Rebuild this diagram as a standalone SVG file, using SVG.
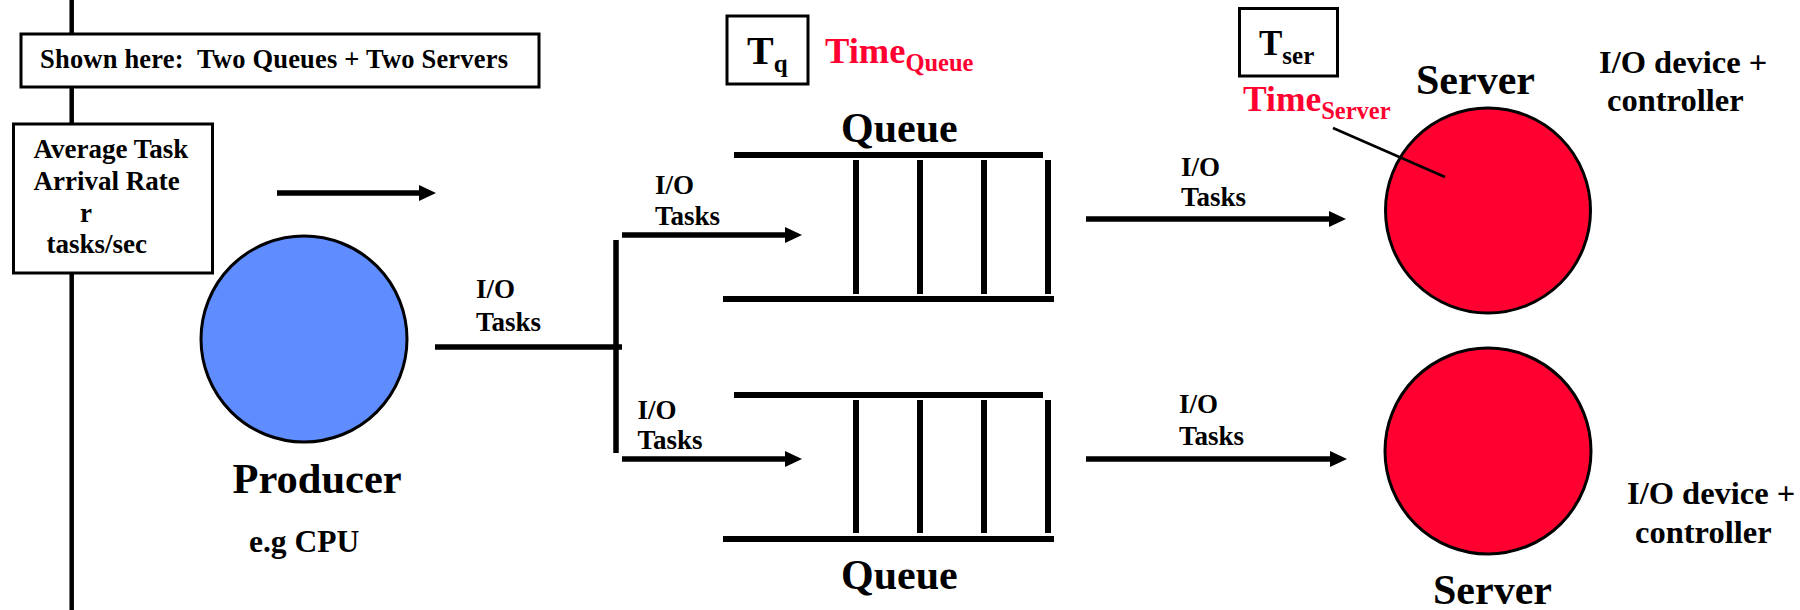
<svg xmlns="http://www.w3.org/2000/svg" width="1800" height="610" viewBox="0 0 1800 610">
<style>
text{font-family:"Liberation Serif","Times New Roman",serif;font-weight:bold;fill:#000}
.box{fill:#fff;stroke:#000;stroke-width:3}
.ln{stroke:#000;stroke-width:5.5;fill:none}
.bar{stroke:#000;stroke-width:6;fill:none}
.red{fill:#ff0030}
.s25{font-size:27px}
.s27{font-size:27px}
.s31{font-size:32.5px}
.s41{font-size:42px}
</style>
<defs>
<marker id="ah" viewBox="0 0 17 16" refX="2" refY="8" markerWidth="17" markerHeight="16" markerUnits="userSpaceOnUse" orient="auto">
<path d="M0,0 L17,8 L0,16 z" fill="#000"/>
</marker>
</defs>
<line x1="71.7" y1="0" x2="71.7" y2="610" stroke="#000" stroke-width="4.5"/>
<g id="connectors">
<line class="ln" x1="277" y1="193" x2="421" y2="193" marker-end="url(#ah)"/>
<line class="ln" x1="435" y1="347" x2="622" y2="347"/>
<line class="ln" x1="616" y1="240" x2="616" y2="453"/>
<line class="ln" x1="622" y1="235" x2="787" y2="235" marker-end="url(#ah)"/>
<line class="ln" x1="622" y1="459" x2="787" y2="459" marker-end="url(#ah)"/>
<line class="ln" x1="1086" y1="219" x2="1331" y2="219" marker-end="url(#ah)"/>
<line class="ln" x1="1086" y1="459" x2="1332" y2="459" marker-end="url(#ah)"/>
</g>
<g id="note-shown">
<rect class="box" x="21" y="34" width="518" height="53"/>
<text style="font-size:26.5px" x="40" y="68" textLength="468" lengthAdjust="spacing" xml:space="preserve">Shown here:  Two Queues + Two Servers</text>
</g>
<g id="arrival-rate">
<rect class="box" x="13.5" y="124" width="199" height="149"/>
<text class="s27" x="33.5" y="157.5">Average Task</text>
<text class="s27" x="33.5" y="189.5">Arrival Rate</text>
<text class="s27" x="80" y="222">r</text>
<text class="s27" x="46.5" y="253">tasks/sec</text>
</g>
<g id="producer">
<circle cx="304" cy="339" r="103" fill="#5f8cff" stroke="#000" stroke-width="3"/>
<text style="font-size:42.5px" x="232.5" y="493">Producer</text>
<text style="font-size:31.5px" x="249" y="551.5">e.g CPU</text>
</g>
<g id="label-io-1">
<text class="s25" x="476" y="298">I/O</text>
<text class="s25" x="476" y="331">Tasks</text>
</g>
<g id="label-io-2">
<text class="s25" x="655" y="193.5">I/O</text>
<text class="s25" x="655" y="224.5">Tasks</text>
</g>
<g id="label-io-3">
<text class="s25" x="637.5" y="418.5">I/O</text>
<text class="s25" x="637.5" y="449">Tasks</text>
</g>
<g id="label-io-4">
<text class="s25" x="1181" y="176">I/O</text>
<text class="s25" x="1181" y="206">Tasks</text>
</g>
<g id="label-io-5">
<text class="s25" x="1179" y="413">I/O</text>
<text class="s25" x="1179" y="445">Tasks</text>
</g>
<g id="tq">
<rect class="box" x="727" y="16" width="81" height="68"/>
<text style="font-size:40px" x="747" y="63.5">T<tspan style="font-size:25px" dy="8.5">q</tspan></text>
</g>
<g id="time-queue">
<text class="red" style="font-size:36.5px" x="825" y="62.5">Time<tspan style="font-size:24.5px" dy="8.5">Queue</tspan></text>
</g>
<g id="queue-1">
<text class="s41" x="841" y="141.5">Queue</text>
<line class="bar" x1="734" y1="155" x2="1043" y2="155"/>
<line class="bar" x1="723" y1="299" x2="1054" y2="299"/>
<line class="bar" x1="856" y1="160" x2="856" y2="294"/>
<line class="bar" x1="920" y1="160" x2="920" y2="294"/>
<line class="bar" x1="984" y1="160" x2="984" y2="294"/>
<line class="bar" x1="1048" y1="160" x2="1048" y2="294"/>
</g>
<g id="queue-2">
<line class="bar" x1="734" y1="395" x2="1043" y2="395"/>
<line class="bar" x1="723" y1="539" x2="1054" y2="539"/>
<line class="bar" x1="856" y1="400" x2="856" y2="533"/>
<line class="bar" x1="920" y1="400" x2="920" y2="533"/>
<line class="bar" x1="984" y1="400" x2="984" y2="533"/>
<line class="bar" x1="1048" y1="400" x2="1048" y2="533"/>
<text class="s41" x="841" y="588.5">Queue</text>
</g>
<g id="tser">
<rect class="box" x="1239.5" y="8.5" width="98" height="67.5"/>
<text style="font-size:35px" x="1259" y="55">T<tspan style="font-size:25px" dy="8.5">ser</tspan></text>
</g>
<g id="server-1">
<circle cx="1488" cy="210.5" r="102.5" fill="#ff0030" stroke="#000" stroke-width="3"/>
<text class="s41" x="1416" y="93.5">Server</text>
<text class="s31" x="1599" y="72.5">I/O device +</text>
<text class="s31" x="1607" y="110.5">controller</text>
</g>
<g id="time-server">
<text class="red" style="font-size:35.5px" x="1243" y="110.5">Time<tspan style="font-size:24.5px" dy="8.5">Server</tspan></text>
<line x1="1333" y1="128" x2="1445" y2="177" stroke="#000" stroke-width="2.5"/>
</g>
<g id="server-2">
<circle cx="1488" cy="451" r="103" fill="#ff0030" stroke="#000" stroke-width="3"/>
<text class="s41" x="1433" y="604">Server</text>
<text class="s31" x="1627" y="504">I/O device +</text>
<text class="s31" x="1635" y="542.5">controller</text>
</g>
</svg>
